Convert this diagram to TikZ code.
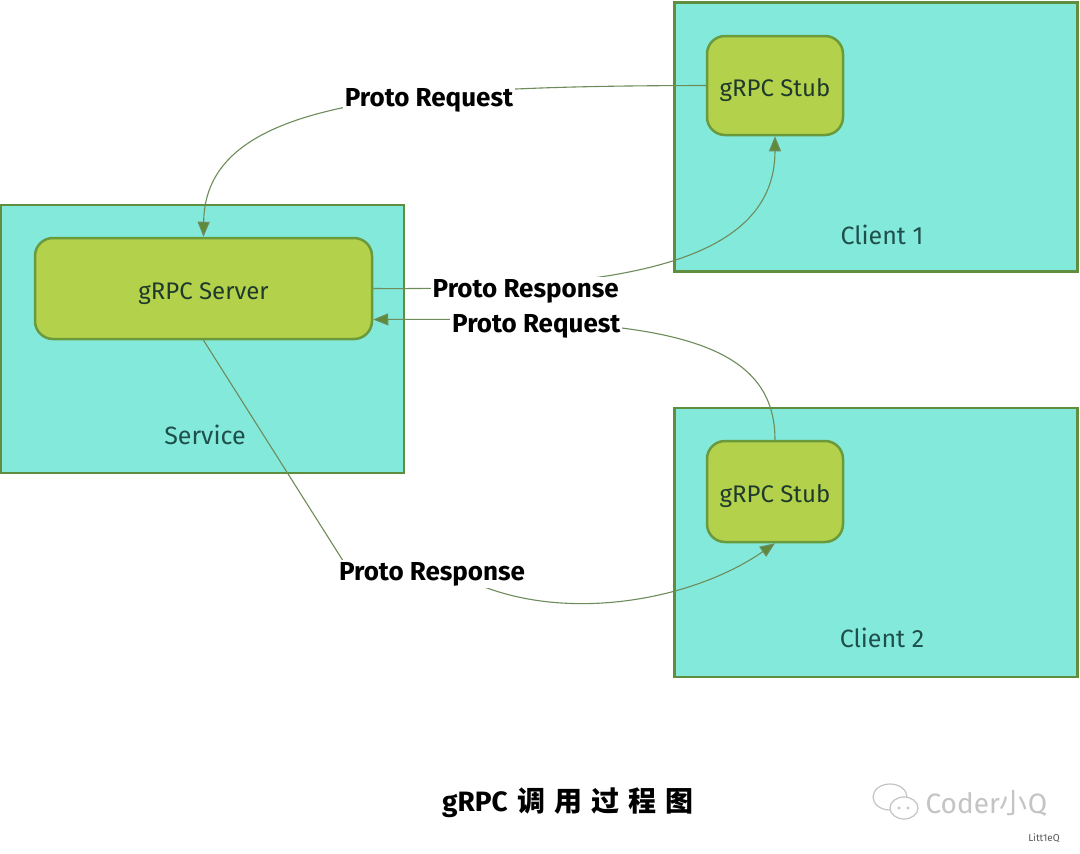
\documentclass[tikz,border=0pt]{standalone}
\usepackage{fontspec}
\setmainfont{Fira Sans}
\newfontfamily\cjk{Noto Sans CJK SC}
\usetikzlibrary{arrows.meta}
\definecolor{boxfill}{HTML}{82E9DB}
\definecolor{boxline}{HTML}{5E8E3E}
\definecolor{stubfill}{HTML}{B4D14B}
\definecolor{stubline}{HTML}{6B9A3D}
\definecolor{conn}{HTML}{6E8B5A}
\definecolor{arrowc}{HTML}{5E8A3A}
\definecolor{innertext}{HTML}{1E3A2C}
\definecolor{areatext}{HTML}{1F4F4A}
\definecolor{wm}{HTML}{C4C4C4}
\tikzset{
  areabox/.style={draw=boxline, fill=boxfill, line width=2.5pt, inner sep=0pt},
  stubbox/.style={draw=stubline, fill=stubfill, line width=2.5pt, rounded corners=18pt, inner sep=0pt,
    text=innertext, font=\fontsize{24}{28}\selectfont, text height=22pt, text depth=0pt},
  arealabel/.style={text=areatext, font=\fontsize{25}{29}\selectfont},
  conn/.style={draw=conn, line width=1.1pt, -{Triangle[length=15pt,width=12pt,fill=arrowc]}},
  lbl/.style={fill=white, inner sep=2pt, text=black, font=\bfseries\fontsize{26}{30}\selectfont},
}
\begin{document}
\begin{tikzpicture}[x=1pt,y=-1pt]
\useasboundingbox (0,0) rectangle (1080,854);
\fill[white] (0,0) rectangle (1080,854);

% areas
\node[areabox, minimum width=403pt, minimum height=269pt] (client1) at (876,137) {};
\node[areabox, minimum width=403pt, minimum height=268pt] (service) at (202.5,339) {};
\node[areabox, minimum width=403pt, minimum height=269pt] (client2) at (876,542.5) {};

% inner boxes
\node[stubbox, minimum width=136pt, minimum height=99pt] (stub1) at (775,85.5) {gRPC Stub};
\node[stubbox, minimum width=337pt, minimum height=101pt] (server) at (203.5,288.5) {gRPC Server};
\node[stubbox, minimum width=136pt, minimum height=101pt] (stub2) at (775,491.5) {gRPC Stub};

% area labels
\node[arealabel] (c1lbl) at (882,235) {Client 1};
\node[arealabel] (svlbl) at (205,435) {Service};
\node[arealabel] (c2lbl) at (882,638) {Client 2};

% connectors
\draw[conn] (stub1.west) .. controls (400,86) and (205,100) .. (server.north)
  node[lbl, pos=0.35, yshift=-5pt] (req1) {Proto Request};
\draw[conn] (server.east) .. controls (600,290) and (775,270) .. (stub1.south)
  node[lbl, pos=0.25, xshift=-6pt, yshift=-7pt] (resp1) {Proto Response};
\draw[conn] (stub2.north) .. controls (775,330) and (640,318) .. ([yshift=-31pt]server.east)
  node[lbl, pos=0.77, yshift=-5pt] (req2) {Proto Request};
\draw[conn] (server.south) -- (352,575) -- (468,580) .. controls (560,624) and (690,602) .. (stub2.south);
\node[lbl] (resp2) at (432,574) {Proto Response};

% title
\node[font=\bfseries\fontsize{28}{32}\selectfont] (title) at (568,803)
  {gRPC\hspace{10pt}{\cjk\bfseries 调\kern9pt 用\kern9pt 过\kern9pt 程\kern9pt 图}};

% watermark
\draw[wm, line width=1.2pt] (890,797) ellipse [x radius=17pt, y radius=13pt];
\draw[wm, line width=1.2pt, fill=white] (904,808) ellipse [x radius=14pt, y radius=11pt];
\fill[wm] (899,808) circle (1.6pt) (908,808) circle (1.6pt);
\node[text=wm, font=\fontsize{28}{32}\selectfont, anchor=west] (wmtext) at (922,803)
  {Coder{\cjk 小}Q};
\node[text=black!65, font=\fontsize{10}{12}\selectfont] (wmsmall) at (1044,838) {Litt1eQ};
\end{tikzpicture}
\end{document}
